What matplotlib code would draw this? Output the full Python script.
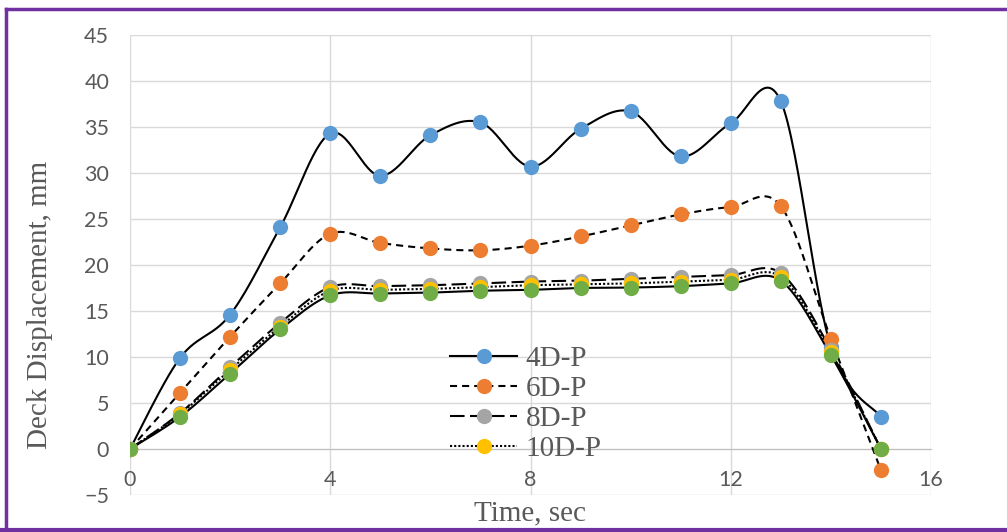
import numpy as np
import matplotlib.pyplot as plt
from matplotlib.lines import Line2D

# Time (sec) and deck displacement (mm)
time_s = [0, 1, 2, 3, 4, 5, 6, 7, 8, 9, 10, 11, 12, 13, 14, 15]
d_4d = [0, 9.9, 14.6, 24.1, 34.3, 29.7, 34.1, 35.5, 30.7, 34.8, 36.7, 31.8, 35.4, 37.8, 11.1, 3.5]
d_6d = [0, 6.1, 12.2, 18.0, 23.4, 22.4, 21.8, 21.6, 22.1, 23.1, 24.3, 25.5, 26.3, 26.4, 12.0, -2.3]
d_8d = [0, 3.9, 8.9, 13.7, 17.6, 17.7, 17.8, 18.0, 18.2, 18.3, 18.5, 18.7, 18.9, 19.1, 10.8, 0]
d_10d = [0, 3.8, 8.6, 13.3, 17.2, 17.3, 17.4, 17.6, 17.8, 17.9, 18.0, 18.2, 18.4, 18.7, 10.5, 0]
d_12d = [0, 3.5, 8.2, 13.0, 16.7, 16.9, 17.0, 17.2, 17.3, 17.5, 17.55, 17.7, 18.0, 18.3, 10.2, 0]

labels = ['4D-P', '6D-P', '8D-P', '10D-P', None]
colors = ['#5B9BD5', '#ED7D31', '#A5A5A5', '#FFC000', '#70AD47']
styles = ['-', (0, (3.4, 2.4)), (0, (7, 2.6)), (0, (1, 1)), '-']
series = [d_4d, d_6d, d_8d, d_10d, d_12d]


def smooth(x, y, n=30):
    # Excel-like smoothed line (Catmull-Rom through the points)
    p = np.column_stack([x, y]).astype(float)
    p = np.vstack([p[0], p, p[-1]])
    out = []
    t = np.linspace(0, 1, n)[:, None]
    for i in range(1, len(p) - 2):
        p0, p1, p2, p3 = p[i - 1], p[i], p[i + 1], p[i + 2]
        c1 = p1 + (p2 - p0) / 6
        c2 = p2 - (p3 - p1) / 6
        seg = ((1 - t) ** 3) * p1 + 3 * ((1 - t) ** 2) * t * c1 + 3 * (1 - t) * t ** 2 * c2 + t ** 3 * p2
        out.append(seg)
    out = np.vstack(out)
    return out[:, 0], out[:, 1]


fig = plt.figure(figsize=(10.07, 5.32), dpi=100)
ax = fig.add_axes([130 / 1007, 1 - 495 / 532, 801 / 1007, 460 / 532])

grey = '#595959'
for y, c, ls in zip(series, colors, styles):
    sx, sy = smooth(time_s, y)
    ax.plot(sx, sy, color='black', lw=1.5, linestyle=ls, zorder=3)
    ax.plot(time_s, y, 'o', color=c, ms=11, mec='none', zorder=4)

ax.set_xlim(0, 16)
ax.set_ylim(-5, 45)
ax.set_xticks([0, 4, 8, 12, 16])
ax.set_yticks(range(-5, 50, 5))
ax.grid(True, color='#D9D9D9', lw=1)
ax.set_axisbelow(True)
for s in ['top', 'right', 'left']:
    ax.spines[s].set_visible(False)
ax.spines['bottom'].set_position(('data', 0))
ax.spines['bottom'].set_color('#BFBFBF')
ax.tick_params(length=0, labelcolor=grey, labelsize=15.5)
ax.tick_params(axis='y', pad=15)
ax.tick_params(axis='x', pad=15)
for lab in ax.get_xticklabels() + ax.get_yticklabels():
    lab.set_family('Lato')

fig.text(530 / 1007, 1 - 513 / 532, 'Time, sec', ha='center', va='center',
         family='Liberation Serif', fontsize=21, color=grey)
fig.text(40 / 1007, 1 - 305 / 532, 'Deck Displacement, mm', ha='center', va='center',
         rotation=90, family='Liberation Serif', fontsize=21, color=grey)

handles = [Line2D([0], [0], color='black', lw=1.5, linestyle=ls, marker='o',
                  markerfacecolor=c, markeredgecolor='none', ms=11)
           for c, ls, l in zip(colors, styles, labels) if l]
leg = ax.legend(handles, [l for l in labels if l], loc='upper left',
                bbox_to_anchor=(450 / 1007, 1 - 346 / 532), bbox_transform=fig.transFigure,
                frameon=False, borderpad=0, borderaxespad=0,
                handlelength=2.3, labelspacing=0.12, handletextpad=0.3,
                prop={'family': 'Liberation Serif', 'size': 21})
for t in leg.get_texts():
    t.set_color(grey)

# purple frame around the figure
fig.add_artist(Line2D([6 / 1007, 6 / 1007], [1 - 530 / 532, 1 - 9 / 532], color='#7030A0', lw=2.5,
                      transform=fig.transFigure))
fig.add_artist(Line2D([6 / 1007, 1], [1 - 9 / 532, 1 - 9 / 532], color='#7030A0', lw=2.5,
                      transform=fig.transFigure))
fig.add_artist(Line2D([0, 1], [1 - 530 / 532, 1 - 530 / 532], color='#7030A0', lw=3,
                      transform=fig.transFigure))

fig.savefig('out.png', dpi=100)
